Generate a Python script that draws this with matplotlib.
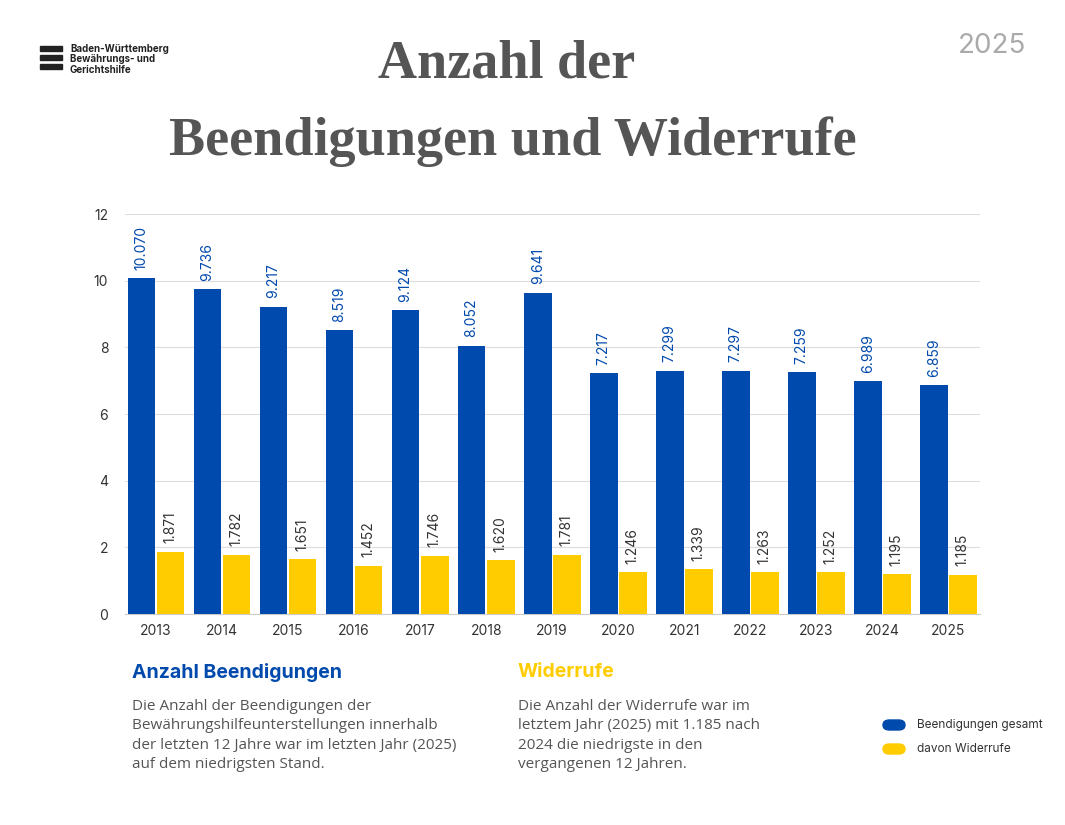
import matplotlib
matplotlib.use("Agg")
import matplotlib.pyplot as plt
import numpy as np
from matplotlib.patches import FancyBboxPatch, Rectangle

years = ["2013","2014","2015","2016","2017","2018","2019","2020","2021","2022","2023","2024","2025"]
total = [10.070,9.736,9.217,8.519,9.124,8.052,9.641,7.217,7.299,7.297,7.259,6.989,6.859]
widerrufe = [1.871,1.782,1.651,1.452,1.746,1.620,1.781,1.246,1.339,1.263,1.252,1.195,1.185]
total_labels = ["10.070","9.736","9.217","8.519","9.124","8.052","9.641","7.217","7.299","7.297","7.259","6.989","6.859"]
wid_labels = ["1.871","1.782","1.651","1.452","1.746","1.620","1.781","1.246","1.339","1.263","1.252","1.195","1.185"]

BLUE = "#0049AD"; YELLOW = "#FFCC00"; GRAY = "#555555"
plt.rcParams['font.family'] = ['Inter', 'DejaVu Sans']

fig = plt.figure(figsize=(10.65, 8.25), dpi=100)
ax = fig.add_axes([125/1065, 1-614/825, 855/1065, 400/825])
x = np.arange(len(years))
w = 0.42
ax.bar(x-0.22, total, w, color=BLUE, zorder=3)
ax.bar(x+0.22, widerrufe, w, color=YELLOW, zorder=3)
for i in range(len(years)):
    ax.text(x[i]-0.22, total[i]+0.25, total_labels[i], rotation=90, ha='center', va='bottom', color=BLUE, fontsize=10)
    ax.text(x[i]+0.22, widerrufe[i]+0.25, wid_labels[i], rotation=90, ha='center', va='bottom', color='#333333', fontsize=10)
ax.set_xlim(-0.47, 12.48)
ax.set_ylim(0, 12)
ax.set_yticks([0,2,4,6,8,10,12])
ax.set_xticks(x)
ax.set_xticklabels(years)
ax.tick_params(length=0, labelsize=10, colors='#333333')
ax.tick_params(axis='y', pad=12)
ax.tick_params(axis='x', pad=7)
ax.grid(axis='y', color='#dddddd', lw=0.8, zorder=0)
for s in ax.spines.values():
    s.set_visible(False)
ax.spines['bottom'].set_visible(True); ax.spines['bottom'].set_color('#cccccc')

fig.text(507/1065, 1-65/825, "Anzahl der", ha='center', va='center', fontsize=39, fontweight='bold', family='Liberation Serif', color=GRAY)
fig.text(513/1065, 1-142/825, "Beendigungen und Widerrufe", ha='center', va='center', fontsize=39, fontweight='bold', family='Liberation Serif', color=GRAY)
fig.text(992/1065, 1-46/825, "2025", ha='center', va='center', fontsize=20, color='#aaaaaa')
fig.text(70/1065, 1-44/825, "Baden-Württemberg\nBewährungs- und\nGerichtshilfe", ha='left', va='top', fontsize=7, fontweight='bold', color='#222222', linespacing=1.05)
for k in range(3):
    fig.patches.append(Rectangle((40/1065, 1-(51+k*9)/825), 22/1065, 5/825, transform=fig.transFigure, color='#222222'))

fig.text(132/1065, 1-672/825, "Anzahl Beendigungen", fontsize=14, fontweight='bold', color=BLUE, va='center')
fig.text(518/1065, 1-672/825, "Widerrufe", fontsize=14, fontweight='bold', color=YELLOW, va='center')
fig.text(132/1065, 1-699/825, "Die Anzahl der Beendigungen der\nBewährungshilfeunterstellungen innerhalb\nder letzten 12 Jahre war im letzten Jahr (2025)\nauf dem niedrigsten Stand.",
         fontsize=11, color='#555555', va='top', linespacing=1.4, family='Open Sans')
fig.text(518/1065, 1-699/825, "Die Anzahl der Widerrufe war im\nletztem Jahr (2025) mit 1.185 nach\n2024 die niedrigste in den\nvergangenen 12 Jahren.",
         fontsize=11, color='#555555', va='top', linespacing=1.4, family='Open Sans')

for yy, col, lab in [(725, BLUE, "Beendigungen gesamt"), (749, YELLOW, "davon Widerrufe")]:
    fig.patches.append(FancyBboxPatch((883/1065, 1-(yy+5)/825), 22/1065, 10/825, boxstyle="round,pad=0,rounding_size=0.006",
                                      transform=fig.transFigure, color=col))
    fig.text(917/1065, 1-yy/825, lab, fontsize=8.5, color='#333333', va='center')

fig.savefig("out.png", dpi=100, facecolor='white')
